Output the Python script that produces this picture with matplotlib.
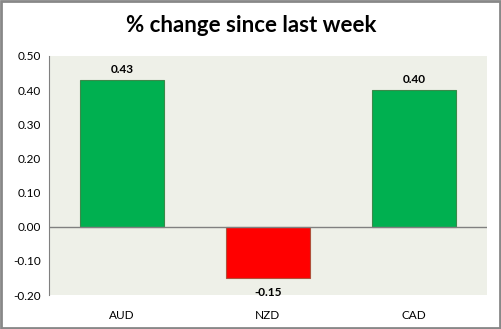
import matplotlib.pyplot as plt
from matplotlib.patches import Rectangle

# weekly % change per currency
currencies = ['AUD', 'NZD', 'CAD']
changes = [0.43, -0.15, 0.40]
yticks = [-0.20, -0.10, 0.00, 0.10, 0.20, 0.30, 0.40, 0.50]

plt.rcParams['font.family'] = ['Lato', 'DejaVu Sans']

fig = plt.figure(figsize=(5.02, 3.29), dpi=100)
ax = fig.add_axes([49 / 502, 1 - 295 / 329, 438 / 502, 239 / 329])
ax.set_facecolor('#EEF0E8')

colors = ['#00B050' if v >= 0 else '#FF0000' for v in changes]
edges = ['#3A8A4A' if v >= 0 else '#B0503A' for v in changes]
x = range(len(currencies))
ax.bar(x, changes, width=0.57, color=colors, edgecolor=edges, linewidth=0.8, zorder=2)

# value labels above / below each bar
for i, v in enumerate(changes):
    if v >= 0:
        ax.text(i, v + 0.014, f'{v:.2f}', ha='center', va='bottom', fontsize=8.5, fontweight='bold')
    else:
        ax.text(i, v - 0.027, f'{v:.2f}', ha='center', va='top', fontsize=8.5, fontweight='bold')

ax.axhline(0, color='#808080', linewidth=1, zorder=3)
ax.set_xlim(-0.5, 2.5)
ax.set_ylim(-0.20, 0.50)
ax.set_yticks(yticks)
ax.set_yticklabels([f'{t:.2f}' for t in yticks], fontsize=8.5)
ax.set_xticks(list(x))
ax.set_xticklabels(currencies, fontsize=8.5)
ax.tick_params(axis='y', length=0, pad=6)
ax.tick_params(axis='x', length=0, pad=11)
for side in ['top', 'right', 'bottom']:
    ax.spines[side].set_visible(False)
ax.spines['left'].set_color('#808080')

fig.text(0.5, 1 - 25 / 329, '% change since last week', ha='center', va='center',
         fontsize=16, fontweight='bold')

# outer chart border
fig.patches.append(Rectangle((0.002, 0.003), 0.995, 0.994, transform=fig.transFigure,
                             fill=False, edgecolor='#888888', linewidth=2))

fig.savefig('out.png', dpi=100)
